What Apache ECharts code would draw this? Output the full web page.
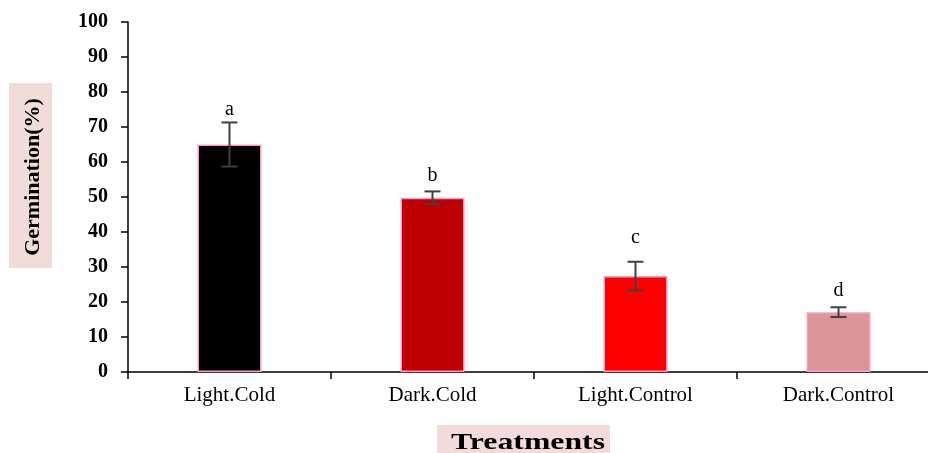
<!DOCTYPE html>
<html><head><meta charset="utf-8">
<script src="https://cdn.jsdelivr.net/npm/echarts@6/dist/echarts.min.js"></script>
<style>html,body{margin:0;padding:0;background:#fff;overflow:hidden;width:928px;height:453px}#c{width:940px;height:453px}</style>
</head><body><div id="c"></div>
<script>
var categories = ['Light.Cold', 'Dark.Cold', 'Light.Control', 'Dark.Control'];
var values = [65, 49.8, 27.4, 17.1];
var errors = [6.3, 1.8, 4.1, 1.4];
var letters = ['a', 'b', 'c', 'd'];
var letterPos = [75, 56, 38.3, 23.1];
var colors = ['#000000', '#c00000', '#ff0000', '#d99694'];
var yTicks = [0, 10, 20, 30, 40, 50, 60, 70, 80, 90, 100];

var font = '"Liberation Serif", "Times New Roman", serif';
var chart = echarts.init(document.getElementById('c'));
chart.setOption({
  animation: false,
  grid: { left: 128, top: 22, right: 0, height: 350 },
  xAxis: {
    type: 'category', data: categories,
    axisLine: { lineStyle: { color: '#000', width: 1.5 } },
    axisTick: { show: true, length: 7, alignWithLabel: false, lineStyle: { color: '#000', width: 1.5 } },
    axisLabel: { color: '#000', fontFamily: font, fontSize: 21, margin: 13 }
  },
  yAxis: {
    type: 'value', min: yTicks[0], max: yTicks[yTicks.length - 1], interval: 10,
    splitLine: { show: false },
    axisLine: { show: true, lineStyle: { color: '#000', width: 1.5 } },
    axisTick: { show: true, length: 7, lineStyle: { color: '#000', width: 1.5 } },
    axisLabel: { color: '#000', fontFamily: font, fontSize: 20, fontWeight: 'bold', margin: 20 }
  },
  graphic: [
    { type: 'rect', shape: { x: 9, y: 83, width: 43, height: 185 }, style: { fill: '#f2dcdb' }, z: 1 },
    { type: 'text', x: 33, y: 177, rotation: Math.PI / 2, z: 2,
      style: { text: 'Germination(%)', font: 'bold 22px ' + font, fill: '#000', textAlign: 'center', textVerticalAlign: 'middle' } },
    { type: 'rect', shape: { x: 437, y: 425, width: 173, height: 30 }, style: { fill: '#f2dcdb' }, z: 1 },
    { type: 'text', x: 528, y: 443, scaleX: 1.38, z: 2,
      style: { text: 'Treatments', font: 'bold 23px ' + font, fill: '#000', textAlign: 'center', textVerticalAlign: 'middle' } }
  ],
  series: [
    {
      type: 'bar', barWidth: 64,
      data: values.map(function (v, i) {
        return { value: v, itemStyle: { color: colors[i], borderColor: '#ff99cc', borderWidth: 1.5 } };
      })
    },
    {
      type: 'custom', z: 5,
      data: values.map(function (v, i) { return [i, v, errors[i], letterPos[i]]; }),
      renderItem: function (params, api) {
        var x = api.value(0), v = api.value(1), e = api.value(2), lp = api.value(3);
        var hi = api.coord([x, v + e]);
        var lo = api.coord([x, v - e]);
        var lt = api.coord([x, lp]);
        var hw = 8;
        var st = { stroke: '#404040', lineWidth: 2 };
        return {
          type: 'group', children: [
            { type: 'line', shape: { x1: hi[0], y1: hi[1], x2: lo[0], y2: lo[1] }, style: st },
            { type: 'line', shape: { x1: hi[0] - hw, y1: hi[1], x2: hi[0] + hw, y2: hi[1] }, style: st },
            { type: 'line', shape: { x1: lo[0] - hw, y1: lo[1], x2: lo[0] + hw, y2: lo[1] }, style: st },
            { type: 'text', style: { x: lt[0], y: lt[1], text: letters[params.dataIndex], font: '20px ' + font, fill: '#000', textAlign: 'center', textVerticalAlign: 'middle' } }
          ]
        };
      }
    }
  ]
});
</script></body></html>
